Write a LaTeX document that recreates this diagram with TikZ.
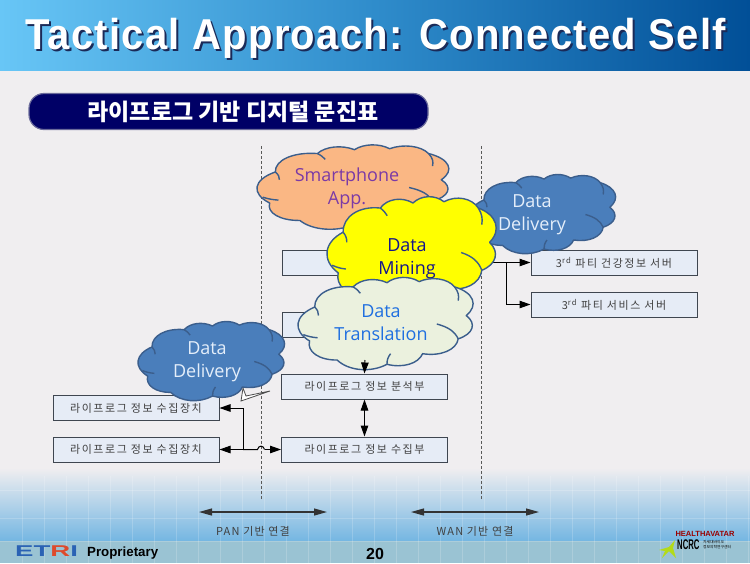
\documentclass[tikz,border=0pt]{standalone}
\usepackage{fontspec}
\setmainfont{Liberation Sans}
\newfontfamily\krfont{Noto Sans CJK KR}
\newfontfamily\cloudfont{Open Sans}
\usetikzlibrary{arrows.meta}
\definecolor{bodybg}{HTML}{F0EEF0}
\definecolor{boxfill}{HTML}{E6ECF6}
\definecolor{boxline}{HTML}{3F4650}
\definecolor{cloudline}{HTML}{3B5E8C}
\definecolor{bandL}{HTML}{68C6F6}
\definecolor{bandM}{HTML}{2F8CCB}
\definecolor{bandR}{HTML}{014F97}
\definecolor{lowblue}{HTML}{74B6E2}
\definecolor{footbg}{HTML}{9AC3D3}
\definecolor{etriblue}{HTML}{2A62B4}
\definecolor{etrired}{HTML}{DE4A2C}
\definecolor{cOrange}{HTML}{FAB784}
\definecolor{cBlue}{HTML}{4A7EBB}
\definecolor{cYellow}{HTML}{FFFF00}
\definecolor{cPale}{HTML}{EBF1DE}
\definecolor{tPurple}{HTML}{7B3AA6}
\definecolor{tNavy}{HTML}{14148C}
\definecolor{tBlue}{HTML}{1F6FE0}
\definecolor{tIce}{HTML}{E4EEFA}
\definecolor{pillFill}{HTML}{000066}
\definecolor{pillLine}{HTML}{6A6A9A}
\definecolor{titleShadow}{HTML}{1A2A58}
\tikzset{
  cl/.style={bend left=50,looseness=1.1},
  box/.style={draw=boxline,line width=1pt,fill=boxfill,minimum width=166pt,minimum height=25pt,inner sep=0pt,font=\krfont\fontsize{11}{12}\selectfont\addfontfeature{LetterSpace=14},text=black!75},
  link/.style={draw=black,line width=1pt},
  tip/.style={-{Triangle[length=11pt,width=7.5pt]}},
  ctext/.style={font=\cloudfont\fontsize{18}{23}\selectfont,align=center,inner sep=0pt},
  divider/.style={draw=black!65,line width=1pt,dash pattern=on 3pt off 2pt},
  span/.style={draw=black!80,line width=1.2pt,{Triangle[length=13pt,width=7pt]}-{Triangle[length=13pt,width=7pt]}},
  spanlabel/.style={font=\krfont\fontsize{11}{12}\selectfont\addfontfeature{LetterSpace=11},text=black!75,inner sep=0pt},
  gridline/.style={draw=white,opacity=.18,line width=1pt},
  titletext/.style={font=\fontsize{40}{44}\selectfont\bfseries\addfontfeature{LetterSpace=3.2},inner sep=0pt}
}
\newcommand{\mycloud}[5]{%
 \begin{scope}[shift={(#1,#2)},xscale=#3,yscale=#4]
  \draw[fill=#5,draw=cloudline,line width=1.4pt,line join=round]
   (.094,.34) to[cl] (.31,.15) to[cl] (.50,.11) to[cl] (.68,.10) to[cl] (.88,.15)
   to[cl] (.945,.42) to[cl] (.90,.64) to[cl] (.70,.78) to[cl] (.50,.88) to[cl] (.22,.84)
   to[cl] (.065,.66) to[cl] (.094,.34) -- cycle;
  \draw[draw=cloudline,line width=1.4pt]
   (.78,.50) to[bend left=25] (.90,.64)
   (.03,.60) to[bend right=12] (.11,.63)
   (.094,.34) to[bend left=15] (.115,.42)
   (.88,.15) to[bend left=15] (.90,.28)
   (.50,.88) to[bend left=12] (.52,.78)
   (.31,.15) to[bend left=10] (.35,.21);
 \end{scope}}
\begin{document}
\begin{tikzpicture}[x=1pt,y=-1pt]
\useasboundingbox (0,0) rectangle (750,563);
% backgrounds
\fill[bodybg] (0,0) rectangle (750,563);
\shade[top color=bodybg,bottom color=lowblue] (0,468) rectangle (750,541);
\fill[footbg] (0,541) rectangle (750,563);
\foreach \gx in {22,44,...,748} \draw[gridline] (\gx,476) -- (\gx,563);
\foreach \gy in {490,518,541} \draw[gridline] (0,\gy) -- (750,\gy);
\shade[left color=bandL,right color=bandR,middle color=bandM] (0,0) rectangle (750,70);
% title
\node[titletext,text=titleShadow] (titleshadow) at (377.5,40.5) {\scalebox{1}[1.08]{Tactical Approach: Connected Self}};
\node[titletext,text=white] (title) at (375.5,38.5) {\scalebox{1}[1.08]{Tactical Approach: Connected Self}};
% heading pill
\node[draw=pillLine,line width=1.2pt,fill=pillFill,rounded corners=15pt,minimum width=399pt,minimum height=36pt,inner sep=0pt,text=white,font=\krfont\fontsize{23}{26}\selectfont\bfseries] (pill) at (228.5,111.5) {\hspace*{9pt}라이프로그 기반 디지털 문진표};
% dividers
\coordinate (d1a) at (261,146); \coordinate (d1b) at (261,500);
\coordinate (d2a) at (481,146); \coordinate (d2b) at (481,500);
\draw[divider] (d1a) -- (d1b);
\draw[divider] (d2a) -- (d2b);
% boxes
\node[box] (hub) at (365,262.5) {};
\node[box] (trans) at (365,324.5) {};
\node[box] (analysis) at (364.5,386.5) {라이프로그 정보 분석부};
\node[box] (collect) at (364.5,449.5) {라이프로그 정보 수집부};
\node[box] (dev1) at (136,408) {라이프로그 정보 수집장치};
\node[box] (dev2) at (136,449.5) {라이프로그 정보 수집장치};
\node[box] (srv1) at (614,262.5) {3\textsuperscript{rd} 파티 건강정보 서버};
\node[box] (srv2) at (614,304.5) {3\textsuperscript{rd} 파티 서비스 서버};
% connectors
\coordinate (j1) at (243,408);
\coordinate (j2) at (243,449.5);
\coordinate (h1) at (257.5,449.5);
\coordinate (h2) at (264.5,449.5);
\coordinate (j3) at (506,262.5);
\coordinate (j4) at (506,304.5);
\coordinate (atop) at (365,360);
\draw[link,tip] (j1) -- (dev1.east);
\draw[link] (j1) -- (j2);
\draw[link,tip] (j2) -- (dev2.east);
\draw[link] (j2) -- (h1) .. controls (258.5,445) and (263.5,445) .. (h2);
\draw[link,tip] (h2) -- (collect.west);
\draw[link,{Triangle[length=11pt,width=7.5pt]}-{Triangle[length=11pt,width=7.5pt]}] (analysis.south) -- (collect.north);
\draw[link,tip] (hub.east) -- (srv1.west);
\draw[link] (j3) -- (j4);
\draw[link,tip] (j4) -- (srv2.west);
% callout tail
\coordinate (t1) at (241,401); \coordinate (t2) at (270,391); \coordinate (t3) at (246,396); \coordinate (t4) at (243,388);
\draw[fill=white,draw=black!70,line width=.8pt] (t4) -- (t1) -- (t2) -- (t3) -- cycle;
% clouds
\mycloud{257}{139}{195}{97}{cOrange}
\node[ctext,text=tPurple] (smart) at (347,188.5) {Smartphone\\App.};
\mycloud{470}{169}{148}{91}{cBlue}
\node[ctext,text=tIce] (deliv1) at (532,215) {Data\\Delivery};
\mycloud{138}{316}{149}{91}{cBlue}
\node[ctext,text=tIce] (deliv2) at (207,362) {Data\\Delivery};
\mycloud{327}{189}{172}{127}{cYellow}
\node[ctext,text=tNavy] (mining) at (407,259) {Data\\Mining};
\mycloud{298}{271}{178}{106}{cPale}
\node[ctext,text=tBlue] (transl) at (381,323) {Data\\Translation};
\draw[link,tip] (atop) -- (analysis.north);
% spans
\coordinate (p1) at (199,512); \coordinate (p2) at (327,512);
\coordinate (w1) at (411,512); \coordinate (w2) at (539,512);
\draw[span] (p1) -- (p2);
\draw[span] (w1) -- (w2);
\node[spanlabel] (panl) at (253,531) {PAN 기반 연결};
\node[spanlabel] (wanl) at (475,531) {WAN 기반 연결};
% footer
\node[inner sep=0pt,anchor=west,font=\fontsize{17}{18}\selectfont\bfseries] (etri) at (15,551.5) {\scalebox{1.62}[.92]{\textcolor{etriblue}{ET}\textcolor{etrired}{R}\textcolor{etriblue}{I}}};
\node[inner sep=0pt,anchor=west,font=\fontsize{13.3}{15}\selectfont\bfseries] (prop) at (87,553) {Proprietary};
\node[inner sep=0pt,font=\fontsize{16}{18}\selectfont\bfseries] (pg) at (375,554) {20};
\node[inner sep=0pt,font=\fontsize{7.5}{8}\selectfont\bfseries,text=red!60!black] (hav) at (705,534) {HEALTHAVATAR};
\node[inner sep=0pt,font=\fontsize{14}{15}\selectfont\bfseries,anchor=west] (ncrc) at (677,545) {\scalebox{.55}[1]{NCRC}};
\node[inner sep=0pt,anchor=west,align=left,font=\krfont\fontsize{3.8}{5}\selectfont] (kr) at (703,544.5) {차세대바이오\\정보의학연구센터};
\fill[yellow!70!green] (659,550) -- (669,547) -- (675,540) -- (673,548) -- (676,558) -- (669,551) -- (662,558) -- (665,551) -- cycle;
\end{tikzpicture}
\end{document}
